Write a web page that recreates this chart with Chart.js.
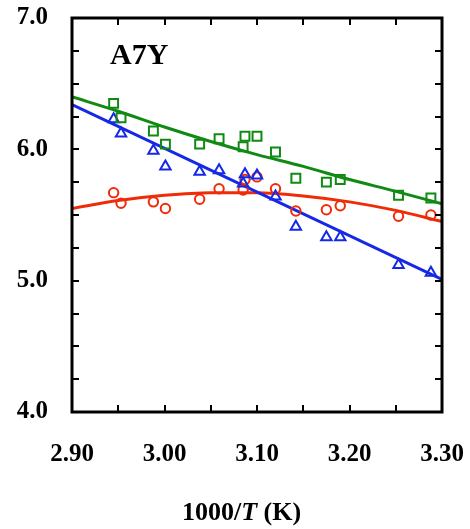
<!DOCTYPE html>
<html>
<head>
<meta charset="utf-8">
<script src="https://cdn.jsdelivr.net/npm/chart.js@4"></script>
<style>
  body { margin: 0; background: #fff; }
</style>
</head>
<body>
<canvas id="chart" width="470" height="529"></canvas>
<script>
// 1000/T values of the measured points (shared by the three series)
const invT = [2.945, 2.953, 2.988, 3.001, 3.038, 3.059, 3.087, 3.085, 3.100, 3.120, 3.142, 3.175, 3.190, 3.253, 3.288];
const greenPts = [6.35, 6.24, 6.14, 6.04, 6.04, 6.08, 6.10, 6.02, 6.10, 5.98, 5.78, 5.75, 5.77, 5.65, 5.63];
const bluePts  = [6.23, 6.12, 5.99, 5.87, 5.83, 5.84, 5.81, 5.74, 5.80, 5.64, 5.41, 5.33, 5.33, 5.12, 5.06];
const redPts   = [5.67, 5.59, 5.60, 5.55, 5.62, 5.70, 5.77, 5.69, 5.79, 5.70, 5.53, 5.54, 5.57, 5.49, 5.50];

// fitted curves
const fitX     = [2.90, 2.95, 3.00, 3.05, 3.10, 3.15, 3.20, 3.25, 3.30];
const greenFit = [6.40, 6.29, 6.17, 6.06, 5.96, 5.87, 5.77, 5.68, 5.585];
const redFit   = [5.55, 5.61, 5.65, 5.67, 5.67, 5.645, 5.60, 5.535, 5.45];
const blueFitX = [2.90, 3.30];
const blueFit  = [6.34, 5.01];

const GREEN = "#108a12";
const BLUE = "#1428e6";
const RED = "#f02c08";

function pts(xs, ys) {
    return xs.map((x, i) => ({ x: x, y: ys[i] }));
}

function fitLine(xs, ys, color) {
    return {
        data: pts(xs, ys),
        showLine: true,
        borderColor: color,
        borderWidth: 3,
        pointRadius: 0,
        cubicInterpolationMode: "monotone",
        fill: false
    };
}

function marks(ys, color, style, r) {
    return {
        data: pts(invT, ys),
        showLine: false,
        pointStyle: style,
        pointRadius: r,
        pointBorderWidth: 2,
        pointBorderColor: color,
        pointBackgroundColor: "rgba(0,0,0,0)"
    };
}

// frame with inward ticks on all four sides, plus the text bits
const frame = {
    id: "frame",
    afterDraw(chart) {
        const { ctx, chartArea: a, scales: { x, y } } = chart;
        ctx.save();
        ctx.strokeStyle = "#000";
        ctx.lineWidth = 2;
        ctx.beginPath();
        x.ticks.forEach(t => {
            const px = Math.round(x.getPixelForValue(t.value));
            ctx.moveTo(px, a.bottom); ctx.lineTo(px, a.bottom - 7);
            ctx.moveTo(px, a.top); ctx.lineTo(px, a.top + 7);
        });
        y.ticks.forEach(t => {
            const py = Math.round(y.getPixelForValue(t.value));
            ctx.moveTo(a.left, py); ctx.lineTo(a.left + 7, py);
            ctx.moveTo(a.right, py); ctx.lineTo(a.right - 7, py);
        });
        ctx.stroke();
        ctx.lineWidth = 3;
        ctx.strokeRect(a.left, a.top, a.right - a.left, a.bottom - a.top);

        ctx.fillStyle = "#000";
        ctx.textBaseline = "alphabetic";
        ctx.textAlign = "left";
        ctx.font = "bold 30px 'Liberation Serif'";
        ctx.fillText("A7Y", 110, 64);

        // axis title: 1000/T (K) with italic T
        const parts = [
            ["1000/", "bold 26px 'Liberation Serif'"],
            ["T", "italic bold 26px 'Liberation Serif'"],
            [" (K)", "bold 26px 'Liberation Serif'"]
        ];
        let cx = 182;
        parts.forEach(p => {
            ctx.font = p[1];
            ctx.fillText(p[0], cx, 520);
            cx += ctx.measureText(p[0]).width;
        });
        ctx.restore();
    }
};

new Chart(document.getElementById("chart"), {
    type: "scatter",
    data: {
        datasets: [
            marks(greenPts, GREEN, "rect", 6.3),
            marks(bluePts, BLUE, "triangle", 6),
            marks(redPts, RED, "circle", 4.7),
            fitLine(fitX, greenFit, GREEN),
            fitLine(blueFitX, blueFit, BLUE),
            fitLine(fitX, redFit, RED)
        ]
    },
    options: {
        responsive: false,
        animation: false,
        devicePixelRatio: 1,
        layout: { padding: { top: 18, right: 28, left: 0, bottom: 0 } },
        plugins: { legend: { display: false }, tooltip: { enabled: false } },
        scales: {
            x: {
                type: "linear",
                min: 2.9,
                max: 3.3,
                grid: { display: false },
                border: { display: false },
                ticks: {
                    stepSize: 0.05,
                    padding: 20,
                    color: "#000",
                    font: { family: "'Liberation Serif'", size: 25, weight: "bold" },
                    maxRotation: 0,
                    autoSkip: false,
                    callback: v => Math.abs(v * 10 - Math.round(v * 10)) < 1e-6 ? v.toFixed(2) : ""
                },
                afterFit: s => { s.height = 117; s.paddingLeft = 0; s.paddingRight = 0; }
            },
            y: {
                type: "linear",
                min: 4,
                max: 7,
                grid: { display: false },
                border: { display: false },
                ticks: {
                    stepSize: 0.25,
                    padding: 16,
                    color: "#000",
                    font: { family: "'Liberation Serif'", size: 25, weight: "bold" },
                    autoSkip: false,
                    callback: v => Math.abs(v - Math.round(v)) < 1e-6 ? v.toFixed(1) : ""
                },
                afterFit: s => { s.width = 72; s.paddingTop = 0; s.paddingBottom = 0; }
            }
        }
    },
    plugins: [frame]
});
</script>
</body>
</html>
